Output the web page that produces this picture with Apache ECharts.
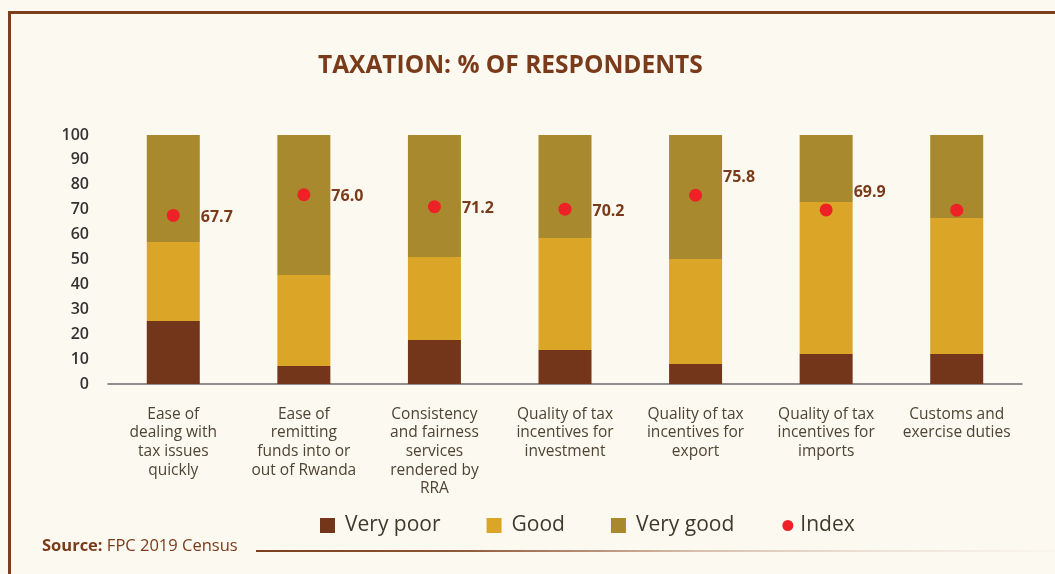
<!DOCTYPE html>
<html>
<head>
<meta charset="utf-8">
<title>Taxation: % of respondents</title>
<script src="https://cdn.jsdelivr.net/npm/echarts@6/dist/echarts.min.js"></script>
<style>
  html, body { margin: 0; padding: 0; background: #fcf9f1; }
  #chart { width: 1055px; height: 574px; }
</style>
</head>
<body>
<div id="chart"></div>
<script>
// Survey categories (tick labels on the x axis)
const categories = [
  'Ease of\ndealing with\ntax issues\nquickly',
  'Ease of\nremitting\nfunds into or\nout of Rwanda',
  'Consistency\nand fairness\nservices\nrendered by\nRRA',
  'Quality of tax\nincentives for\ninvestment',
  'Quality of tax\nincentives for\nexport',
  'Quality of tax\nincentives for\nimports',
  'Customs and\nexercise duties'
];

// Share of respondents per rating (%)
const veryPoor = [25.3, 7.2, 17.7, 13.7, 8.0, 12.0, 12.0];
const good     = [31.7, 36.6, 33.3, 44.9, 42.2, 61.1, 54.7];
const veryGood = [43.0, 56.2, 49.0, 41.4, 49.8, 26.9, 33.3];

// Composite index per category
const indexValues = [67.7, 76.0, 71.2, 70.2, 75.8, 69.9, 69.8];
const indexLabelled = [true, true, true, true, true, true, false];

// Y axis ticks
const yTicks = { min: 0, max: 100, step: 10 };

const C = {
  veryPoor: '#74361a',
  good: '#dba628',
  veryGood: '#a8892e',
  index: '#ee2226',
  brown: '#7a3b1a',
  frame: '#7b3f1c',
  bg: '#fcf9f1'
};

const chart = echarts.init(document.getElementById('chart'), null, { renderer: 'canvas' });

// Index labels: the two highest-placed labels sit above the dot's line
const indexData = indexValues.map((v, i) => ({
  value: v,
  label: {
    show: indexLabelled[i],
    offset: (i === 4 || i === 5) ? [0, -18] : [0, 2]
  }
}));

const barCommon = {
  type: 'bar',
  stack: 'rating',
  barWidth: 53,
  emphasis: { disabled: true }
};

const circleIcon = 'path://M0 0M15 15M2 7.5a5.5 5.5 0 1 0 11 0a5.5 5.5 0 1 0 -11 0Z';

chart.setOption({
  animation: false,
  backgroundColor: C.bg,
  title: {
    text: 'TAXATION: % OF RESPONDENTS',
    left: 313,
    top: 49,
    textStyle: {
      fontFamily: 'Open Sans',
      fontWeight: 'bold',
      fontSize: 24.5,
      color: C.brown
    }
  },
  legend: {
    left: 315,
    top: 510,
    itemWidth: 15,
    itemHeight: 15,
    itemGap: 46,
    textStyle: {
      fontFamily: 'Open Sans',
      fontSize: 21,
      color: '#3d3a2c',
      padding: [0, 0, 0, 5]
    },
    data: [
      { name: 'Very poor', icon: 'rect' },
      { name: 'Good', icon: 'rect' },
      { name: 'Very good', icon: 'rect' },
      { name: 'Index', icon: circleIcon, textStyle: { padding: [0, 0, 0, 0] } }
    ]
  },
  grid: { left: 108, right: 33, top: 135, bottom: 190 },
  xAxis: {
    type: 'category',
    data: categories,
    axisLine: { show: true, lineStyle: { color: '#6b6b6b', width: 1.5 } },
    axisTick: { show: false },
    axisLabel: {
      interval: 0,
      margin: 21,
      fontFamily: 'Open Sans',
      fontSize: 15.5,
      lineHeight: 18.6,
      color: '#4d4533',
      align: 'center'
    }
  },
  yAxis: {
    type: 'value',
    min: yTicks.min,
    max: yTicks.max,
    interval: yTicks.step,
    axisLine: { show: false },
    axisTick: { show: false },
    splitLine: { show: false },
    axisLabel: {
      margin: 19,
      fontFamily: 'Open Sans',
      fontWeight: 600,
      fontSize: 16,
      color: '#333333'
    }
  },
  series: [
    Object.assign({}, barCommon, { name: 'Very poor', data: veryPoor, itemStyle: { color: C.veryPoor } }),
    Object.assign({}, barCommon, { name: 'Good', data: good, itemStyle: { color: C.good } }),
    Object.assign({}, barCommon, { name: 'Very good', data: veryGood, itemStyle: { color: C.veryGood } }),
    {
      name: 'Index',
      type: 'scatter',
      z: 5,
      symbol: 'circle',
      symbolSize: 13,
      itemStyle: { color: C.index, opacity: 1 },
      emphasis: { disabled: true },
      label: {
        position: 'right',
        distance: 21,
        fontFamily: 'Open Sans',
        fontWeight: 'bold',
        fontSize: 16,
        color: C.brown,
        formatter: p => p.value.toFixed(1)
      },
      data: indexData
    }
  ],
  graphic: [
    // frame: top and left rules
    { type: 'rect', silent: true, shape: { x: 8, y: 11, width: 1047, height: 3 }, style: { fill: C.frame } },
    { type: 'rect', silent: true, shape: { x: 8, y: 11, width: 3, height: 563 }, style: { fill: C.frame } },
    // source note
    {
      type: 'text',
      silent: true,
      left: 42,
      top: 538,
      style: {
        text: '{b|Source:} FPC 2019 Census',
        fontFamily: 'Open Sans',
        fontSize: 16.5,
        fill: C.brown,
        rich: { b: { fontFamily: 'Open Sans', fontWeight: 'bold', fontSize: 16.5, fill: C.brown } }
      }
    },
    // fading rule after the source note
    {
      type: 'rect',
      silent: true,
      shape: { x: 256, y: 550, width: 799, height: 2 },
      style: {
        fill: new echarts.graphic.LinearGradient(0, 0, 1, 0, [
          { offset: 0, color: '#7b3f1c' },
          { offset: 0.25, color: '#8e5737' },
          { offset: 0.55, color: '#d8bead' },
          { offset: 0.75, color: '#ebdfd4' },
          { offset: 1, color: '#faf6ee' }
        ])
      }
    }
  ]
});
</script>
</body>
</html>
